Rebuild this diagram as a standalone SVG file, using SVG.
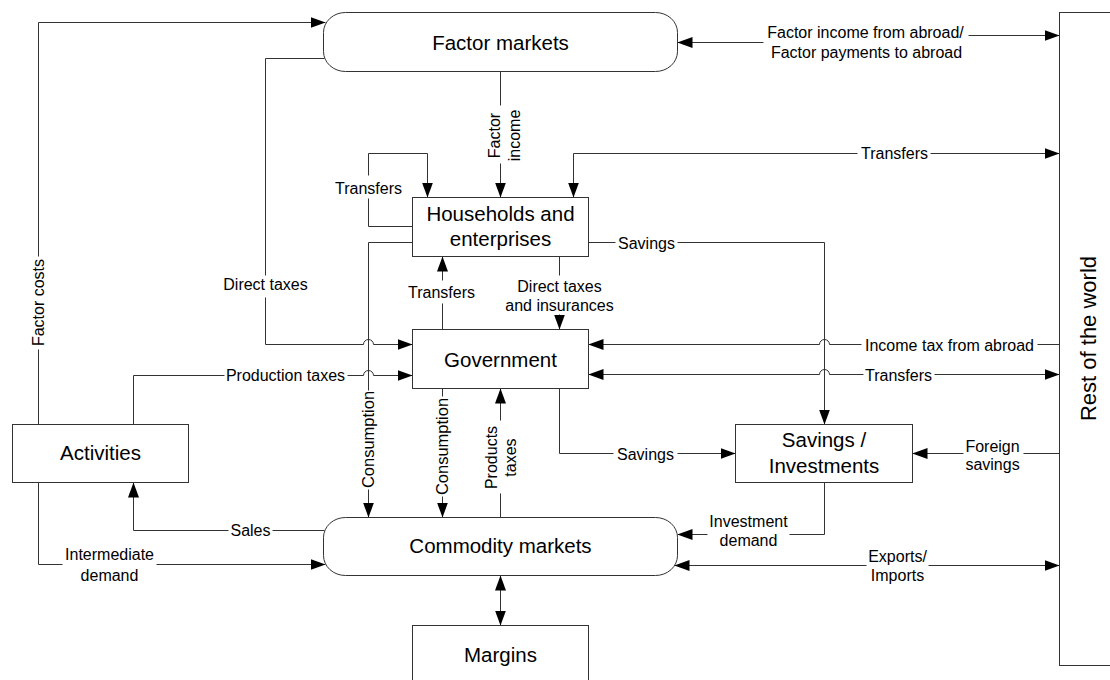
<svg xmlns="http://www.w3.org/2000/svg" width="1110" height="680" viewBox="0 0 1110 680">
<style>
.n{fill:#fff;stroke:#333;stroke-width:1}
.c{fill:none;stroke:#333;stroke-width:1}
.a1{marker-end:url(#ah)}
.a2{marker-start:url(#ah);marker-end:url(#ah)}
.t{font-family:"Liberation Sans",Arial,sans-serif;font-size:20.5px;fill:#000;text-anchor:middle}
.l{font-family:"Liberation Sans",Arial,sans-serif;font-size:16px;fill:#000;text-anchor:middle}
.lc{font-size:16.5px}
</style>
<defs>
<marker id="ah" viewBox="0 0 15 11" refX="15" refY="5.5" markerWidth="15" markerHeight="11" markerUnits="userSpaceOnUse" orient="auto-start-reverse">
<path d="M0,0 L15,5.5 L0,11 z" fill="#000"/>
</marker>
</defs>
<rect width="1110" height="680" fill="#fff"/>
<g transform="translate(0.5 0.5)">
<g id="connectors">
<path class="c a1" d="M38,424 V349 M38,256 V22 H325"/>
<path class="c a1" d="M324,58 H265 V275 M265,297 V344 H363 A5,5 0 0 1 373,344 H412"/>
<path class="c a1" d="M500,71 V105 M500,163 V197"/>
<path class="c a2" d="M677,42 H763 M968,35 H1059"/>
<path class="c a2" d="M573,197 V153 H857 M930,153 H1059"/>
<path class="c a1" d="M412,226 H368 V198 M368,175 V153 H427 V197"/>
<path class="c a1" d="M412,242 H368 V390 M368,489 V517"/>
<path class="c a1" d="M442,388 V396 M442,496 V517"/>
<path class="c a1" d="M500,517 V493 M500,420 V388"/>
<path class="c a1" d="M442,329 V303 M442,280 V256"/>
<path class="c a1" d="M559,256 V275 M559,314 V329"/>
<path class="c a1" d="M588,242 H615 M677,242 H824 V424"/>
<path class="c a1" d="M1059,344 H1037 M861,344 H829 A5,5 0 0 0 819,344 H588"/>
<path class="c a2" d="M588,374 H819 A5,5 0 0 1 829,374 H863 M934,374 H1059"/>
<path class="c a1" d="M559,388 V453 H613 M677,453 H735"/>
<path class="c a1" d="M1059,453 H1023 M963,453 H912"/>
<path class="c a1" d="M824,482 V534 H789 M707,534 H677"/>
<path class="c a2" d="M674,565 H866 M928,565 H1059"/>
<path class="c a1" d="M324,530 H272 M228,530 H133 V482"/>
<path class="c a1" d="M38,482 V564 H62 M156,564 H325"/>
<path class="c a1" d="M133,424 V375 H224 M347,375 H363 A5,5 0 0 1 373,375 H412"/>
<path class="c a2" d="M500,575 V625"/>
<g id="connector-labels">
<text class="l" transform="translate(38 302) rotate(-90)" x="0" y="5.7">Factor costs</text>
<text class="l" x="265" y="289">Direct taxes</text>
<g transform="translate(503 135) rotate(-90)">
<text class="l" x="0" y="-4">Factor</text>
<text class="l" x="0" y="16">income</text>
</g>
<text class="l" x="865" y="37.5">Factor income from abroad/</text>
<text class="l" x="866" y="57">Factor payments to abroad</text>
<text class="l" x="894" y="158.5">Transfers</text>
<text class="l" x="368" y="193.5">Transfers</text>
<text class="l lc" transform="translate(368 439) rotate(-90)" x="0" y="5">Consumption</text>
<text class="l lc" transform="translate(442 446) rotate(-90)" x="0" y="5">Consumption</text>
<g transform="translate(500 457) rotate(-90)">
<text class="l" x="0" y="-4">Products</text>
<text class="l" x="0" y="15">taxes</text>
</g>
<text class="l" x="441" y="297">Transfers</text>
<text class="l" x="559" y="291">Direct taxes</text>
<text class="l" x="559" y="310">and insurances</text>
<text class="l" x="646" y="248">Savings</text>
<text class="l" x="949" y="350">Income tax from abroad</text>
<text class="l" x="898" y="380">Transfers</text>
<text class="l" x="645" y="459">Savings</text>
<text class="l" x="992" y="451">Foreign</text>
<text class="l" x="992" y="469">savings</text>
<text class="l" x="748" y="526.5">Investment</text>
<text class="l" x="748" y="545">demand</text>
<text class="l" x="897" y="561">Exports/</text>
<text class="l" x="897" y="580.5">Imports</text>
<text class="l" x="250" y="535.5">Sales</text>
<text class="l" x="109" y="559.5">Intermediate</text>
<text class="l" x="109" y="580">demand</text>
<text class="l" x="285" y="380.5">Production taxes</text>
</g>
</g>
<g id="factor-markets">
<rect class="n" x="323" y="12" width="354" height="59" rx="22" ry="20"/>
<text class="t" x="500" y="49">Factor markets</text>
</g>
<g id="rest-of-world">
<rect class="n" x="1059" y="12" width="100" height="653"/>
<text class="t" style="font-size:22px" transform="translate(1088 338) rotate(-90)" x="0" y="7.8">Rest of the world</text>
</g>
<g id="households">
<rect class="n" x="412" y="197" width="176" height="59"/>
<text class="t" x="500" y="220.5">Households and</text>
<text class="t" x="500" y="245">enterprises</text>
</g>
<g id="government">
<rect class="n" x="412" y="329" width="176" height="59"/>
<text class="t" x="500" y="366">Government</text>
</g>
<g id="savings-investments">
<rect class="n" x="735" y="424" width="177" height="58"/>
<text class="t" x="823.5" y="446.5">Savings /</text>
<text class="t" x="823.5" y="472">Investments</text>
</g>
<g id="activities">
<rect class="n" x="12" y="424" width="176" height="58"/>
<text class="t" x="100" y="459">Activities</text>
</g>
<g id="commodity-markets">
<rect class="n" x="323" y="517" width="354" height="58" rx="22" ry="20"/>
<text class="t" x="500" y="552.5">Commodity markets</text>
</g>
<g id="margins">
<rect class="n" x="412" y="625" width="176" height="70"/>
<text class="t" x="500" y="661">Margins</text>
</g>
</g>
</svg>
